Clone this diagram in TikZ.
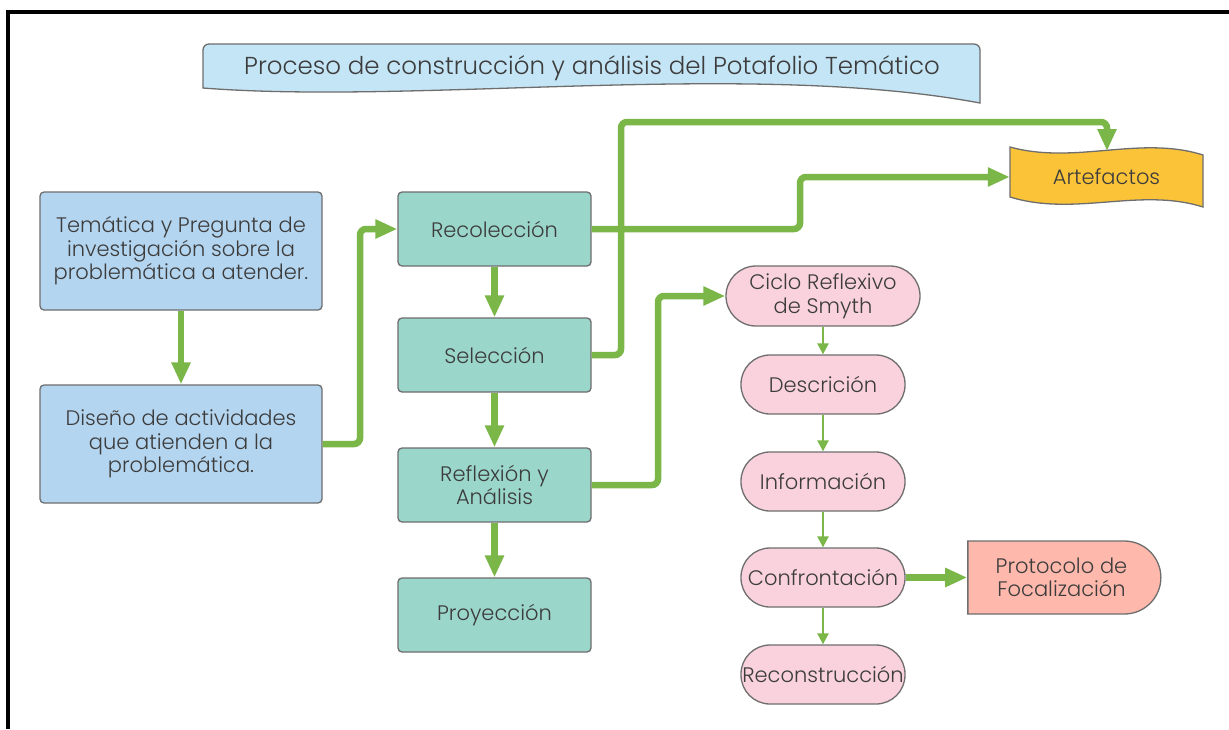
\documentclass[tikz,border=0pt]{standalone}
\usepackage{fontspec}
\IfFontExistsTF{Poppins Light}{\setmainfont{Poppins Light}}{\setmainfont{Poppins}}
\usetikzlibrary{arrows.meta,shapes.misc}
\definecolor{grn}{HTML}{7AB648}
\definecolor{bordc}{HTML}{6E6E6E}
\definecolor{txtc}{HTML}{3C3C3C}
\definecolor{titlec}{HTML}{C4E5F6}
\definecolor{bluec}{HTML}{B4D5F0}
\definecolor{tealc}{HTML}{9BD6CB}
\definecolor{pinkc}{HTML}{F9D2DD}
\definecolor{salmc}{HTML}{FFB8AC}
\definecolor{yelc}{HTML}{FBC338}
\tikzset{
  lbl/.style={text=txtc, font=\fontsize{21}{23.5}\selectfont, align=center, inner sep=0pt},
  bluebox/.style={lbl, draw=bordc, line width=1.3pt, fill=bluec, rounded corners=4pt, minimum width=282pt, minimum height=118pt},
  tealbox/.style={lbl, draw=bordc, line width=1.3pt, fill=tealc, rounded corners=4pt, minimum width=193pt, minimum height=74pt},
  pinkbox/.style={lbl, draw=bordc, line width=1.3pt, fill=pinkc, rounded corners=29pt, minimum width=164pt, minimum height=59pt},
  thickarrow/.style={draw=grn, line width=6.5pt, -{Triangle[length=22pt,width=18pt]}, rounded corners=6pt},
  thinarrow/.style={draw=grn, line width=2.4pt, -{Triangle[length=11pt,width=11pt]}}
}
\begin{document}
\begin{tikzpicture}[x=1pt,y=-1pt]
\useasboundingbox (0,0) rectangle (1229,729);
\fill[white] (0,0) rectangle (1229,729);
% frame
\draw[line width=4pt] (8,729) -- (8,12) -- (1229,12);
% title banner
\draw[draw=bordc, line width=1.3pt, fill=titlec]
  (203,88) [rounded corners=6pt] -- (203,44) -- (980,44) [sharp corners] -- (980,103)
  .. controls (750,60) and (420,105) .. (203,88) -- cycle;
\node[lbl, font=\fontsize{24.5}{28}\selectfont] (title) at (592,68) {Proceso de construcción y análisis del Potafolio Temático};
% artefactos
\draw[draw=bordc, line width=1.3pt, fill=yelc]
  (1010,147) .. controls (1075,165) and (1140,135) .. (1203,155) -- (1203,207)
  .. controls (1140,187) and (1075,217) .. (1010,197) -- cycle;
\node[lbl, minimum width=193pt, minimum height=50pt] (art) at (1106.5,177) {Artefactos};
\coordinate (arttop) at (1107,151);
% left boxes
\node[bluebox] (tem) at (181,251) {Temática y Pregunta de\\investigación sobre la\\problemática a atender.};
\node[bluebox] (dis) at (181,444) {Diseño de actividades\\que atienden a la\\problemática.};
% teal boxes
\node[tealbox] (recol) at (494.5,229) {Recolección};
\node[tealbox] (sel) at (494.5,355) {Selección};
\node[tealbox] (refl) at (494.5,485) {Reflexión y\\Análisis};
\node[tealbox] (proy) at (494.5,615) {Proyección};
% pink
\node[pinkbox, minimum width=194pt, minimum height=60pt, rounded corners=30pt] (ciclo) at (823,296) {Ciclo Reflexivo\\de Smyth};
\node[pinkbox] (desc) at (823,384.5) {Descrición};
\node[pinkbox] (info) at (823,481.5) {Información};
\node[pinkbox] (conf) at (823,577.5) {Confrontación};
\node[pinkbox] (recon) at (823,674.5) {Reconstrucción};
\node[lbl, draw=bordc, line width=1.3pt, fill=salmc, rounded rectangle, rounded rectangle left arc=none,
  minimum width=193pt, minimum height=73pt] (prot) at (1061.5,577.5) {Protocolo de\\Focalización};
% connectors
\draw[thickarrow] (tem.south) -- (dis.north);
\draw[thickarrow] (dis.east) -| (360,300) |- (recol.west);
\draw[thickarrow] (recol.south) -- (sel.north);
\draw[thickarrow] (sel.south) -- (refl.north);
\draw[thickarrow] (refl.south) -- (proy.north);
\draw[thickarrow] (recol.east) -| (800,177) -- (art.west);
\draw[thickarrow] (sel.east) -| (621,122) -| (arttop);
\draw[thickarrow] (refl.east) -| (658,296) -- (ciclo.west);
\draw[thickarrow] (conf.east) -- (prot.west);
\draw[thinarrow] (ciclo.south) -- (desc.north);
\draw[thinarrow] (desc.south) -- (info.north);
\draw[thinarrow] (info.south) -- (conf.north);
\draw[thinarrow] (conf.south) -- (recon.north);
\end{tikzpicture}
\end{document}
